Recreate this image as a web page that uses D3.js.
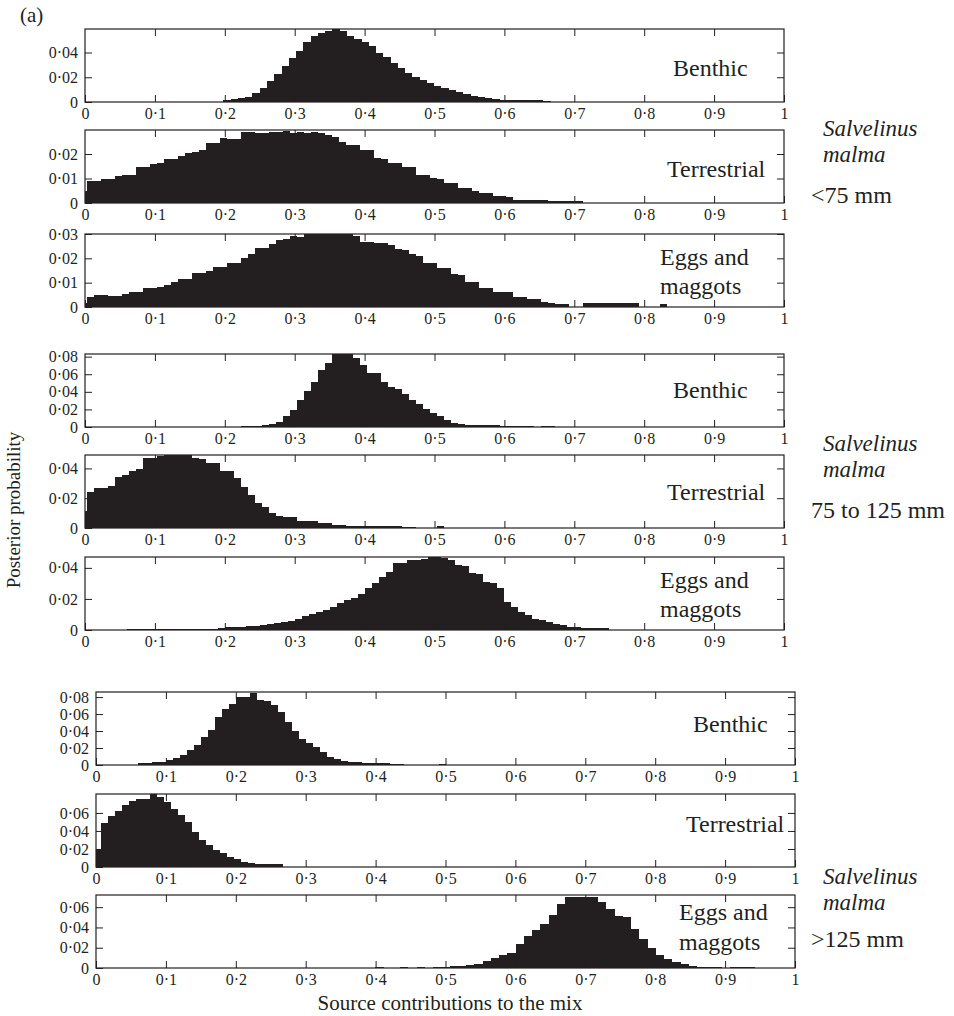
<!DOCTYPE html>
<html>
<head>
<meta charset="utf-8">
<script src="https://cdnjs.cloudflare.com/ajax/libs/d3/7.8.5/d3.min.js"></script>
<style>
  body { margin: 0; background: #fff; }
  text { font-family: "Liberation Serif", "Times New Roman", serif; fill: #231f20; }
</style>
</head>
<body>
<svg id="chart" width="954" height="1016"></svg>
<script>
// ---- data ----
const sources = ["Benthic", "Terrestrial", "Eggs and maggots"];
const sizeClasses = ["<75 mm", "75 to 125 mm", ">125 mm"];
const genus = "Salvelinus", species = "malma";
const xTicks = [0, 0.1, 0.2, 0.3, 0.4, 0.5, 0.6, 0.7, 0.8, 0.9, 1];

// y axis maximum and labelled ticks of each panel
const yMax = [0.059, 0.0298, 0.030, 0.083, 0.049, 0.047, 0.086, 0.081, 0.072];
const yTicks = [
  [0, 0.02, 0.04], [0, 0.01, 0.02], [0, 0.01, 0.02, 0.03],
  [0, 0.02, 0.04, 0.06, 0.08], [0, 0.02, 0.04], [0, 0.02, 0.04],
  [0, 0.02, 0.04, 0.06, 0.08], [0, 0.02, 0.04, 0.06], [0, 0.02, 0.04, 0.06]
];

// left edge of first bin and bin width for each panel
const binStart = [0.198, -0.007, -0.007, 0.223, -0.007, 0.06, 0.06, -0.003, 0.3997];
const binWidth = [0.0104, 0.01, 0.01, 0.01, 0.01, 0.01, 0.01, 0.01, 0.0118];

// posterior probability per bin
const benthicSmall = [0.0015, 0.0028, 0.0030, 0.0042, 0.0069, 0.0110, 0.0172, 0.0226, 0.0291, 0.0354,
  0.0416, 0.0482, 0.0536, 0.0558, 0.0577, 0.0590, 0.0572, 0.0535, 0.0510, 0.0482,
  0.0449, 0.0400, 0.0362, 0.0313, 0.0272, 0.0237, 0.0204, 0.0177, 0.0150, 0.0133,
  0.0112, 0.0095, 0.0079, 0.0063, 0.0049, 0.0041, 0.0033, 0.0025, 0.0020, 0.0017,
  0.0014, 0.0014, 0.0014, 0.0014, 0.0012];
const terrestrialSmall = [0.0047, 0.0088, 0.0090, 0.0099, 0.0100, 0.0111, 0.0115, 0.0116, 0.0145, 0.0146,
  0.0160, 0.0162, 0.0179, 0.0180, 0.0190, 0.0206, 0.0208, 0.0217, 0.0244, 0.0246,
  0.0264, 0.0260, 0.0262, 0.0291, 0.0290, 0.0285, 0.0287, 0.0288, 0.0291, 0.0292,
  0.0287, 0.0291, 0.0284, 0.0291, 0.0284, 0.0278, 0.0268, 0.0250, 0.0237, 0.0236,
  0.0217, 0.0215, 0.0183, 0.0181, 0.0163, 0.0162, 0.0149, 0.0147, 0.0116, 0.0115,
  0.0102, 0.0100, 0.0081, 0.0080, 0.0061, 0.0060, 0.0050, 0.0041, 0.0040, 0.0027,
  0.0027, 0.0026, 0.0014, 0.0014, 0.0014, 0.0013, 0.0012, 0.0007, 0.0007, 0.0007,
  0.0007, 0.0007];
const eggsSmall = [0.0018, 0.0041, 0.0048, 0.0050, 0.0045, 0.0046, 0.0052, 0.0063, 0.0063, 0.0080,
  0.0080, 0.0083, 0.0091, 0.0103, 0.0117, 0.0117, 0.0138, 0.0140, 0.0146, 0.0165,
  0.0166, 0.0180, 0.0182, 0.0200, 0.0217, 0.0242, 0.0243, 0.0259, 0.0277, 0.0279,
  0.0293, 0.0286, 0.0307, 0.0307, 0.0307, 0.0307, 0.0307, 0.0307, 0.0307, 0.0293,
  0.0268, 0.0268, 0.0265, 0.0261, 0.0255, 0.0237, 0.0235, 0.0217, 0.0210, 0.0182,
  0.0180, 0.0162, 0.0160, 0.0134, 0.0132, 0.0104, 0.0102, 0.0079, 0.0078, 0.0063,
  0.0063, 0.0060, 0.0041, 0.0040, 0.0032, 0.0031, 0.0020, 0.0018, 0.0011, 0.0011,
  0, 0, 0.0015, 0.0015, 0.0015, 0.0015, 0.0015, 0.0015, 0.0015, 0.0015,
  0, 0, 0, 0.0011];
const benthicMid = [0.0015, 0.0015, 0.0015, 0.0025, 0.0034, 0.0060, 0.0125, 0.0193, 0.0307, 0.0413,
  0.0508, 0.0648, 0.0730, 0.0830, 0.0830, 0.0830, 0.0790, 0.0705, 0.0617, 0.0610,
  0.0515, 0.0458, 0.0430, 0.0370, 0.0310, 0.0260, 0.0200, 0.0160, 0.0120, 0.0080,
  0.0050, 0.0035, 0.0028, 0.0025, 0.0022, 0.0020, 0.0018, 0.0015, 0.0015, 0.0015,
  0.0015, 0.0015, 0, 0.0015, 0.0015];
const terrestrialMid = [0.0116, 0.0242, 0.0271, 0.0271, 0.0282, 0.0344, 0.0353, 0.0382, 0.0398, 0.0471,
  0.0471, 0.0482, 0.0490, 0.0490, 0.0490, 0.0490, 0.0470, 0.0465, 0.0438, 0.0438,
  0.0382, 0.0382, 0.0338, 0.0278, 0.0220, 0.0171, 0.0144, 0.0104, 0.0082, 0.0071,
  0.0071, 0.0049, 0.0049, 0.0045, 0.0033, 0.0033, 0.0020, 0.0018, 0.0016, 0.0016,
  0.0015, 0.0015, 0.0015, 0.0012, 0.0012, 0.0012, 0.0010, 0.0010, 0, 0,
  0, 0.0012];
const eggsMid = [0.0006, 0.0006, 0.0006, 0.0006, 0.0006, 0.0006, 0.0006, 0.0006, 0.0006, 0.0006,
  0.0006, 0.0006, 0.0006, 0.0015, 0.0017, 0.0020, 0.0022, 0.0025, 0.0028, 0.0030,
  0.0039, 0.0045, 0.0054, 0.0060, 0.0069, 0.0090, 0.0100, 0.0118, 0.0130, 0.0146,
  0.0176, 0.0190, 0.0204, 0.0232, 0.0269, 0.0301, 0.0340, 0.0376, 0.0434, 0.0434,
  0.0452, 0.0452, 0.0460, 0.0473, 0.0473, 0.0465, 0.0452, 0.0420, 0.0410, 0.0366,
  0.0360, 0.0312, 0.0305, 0.0269, 0.0183, 0.0150, 0.0118, 0.0097, 0.0069, 0.0065,
  0.0054, 0.0039, 0.0035, 0.0021, 0.0020, 0.0016, 0.0013, 0.0013, 0.0012];
const benthicLarge = [0.0020, 0.0020, 0.0030, 0.0030, 0.0060, 0.0083, 0.0122, 0.0178, 0.0240, 0.0335,
  0.0418, 0.0563, 0.0663, 0.0722, 0.0800, 0.0800, 0.0847, 0.0769, 0.0750, 0.0702,
  0.0622, 0.0504, 0.0406, 0.0308, 0.0256, 0.0208, 0.0149, 0.0098, 0.0066, 0.0043,
  0.0030, 0.0030, 0.0020, 0.0020, 0.0020, 0.0018, 0.0015, 0.0015, 0, 0,
  0, 0, 0, 0.0015];
const terrestrialLarge = [0.0200, 0.0490, 0.0567, 0.0626, 0.0689, 0.0737, 0.0752, 0.0760, 0.0810, 0.0780,
  0.0726, 0.0641, 0.0578, 0.0504, 0.0393, 0.0300, 0.0244, 0.0189, 0.0160, 0.0107,
  0.0085, 0.0060, 0.0048, 0.0033, 0.0033, 0.0033, 0.0030];
const eggsLarge = [0.0008, 0, 0, 0.0008, 0, 0.0008, 0, 0.0008, 0.0010, 0.0017,
  0.0017, 0.0027, 0.0043, 0.0066, 0.0102, 0.0125, 0.0150, 0.0232, 0.0311, 0.0376,
  0.0435, 0.0526, 0.0631, 0.0703, 0.0703, 0.0703, 0.0703, 0.0647, 0.0582, 0.0517,
  0.0500, 0.0386, 0.0288, 0.0200, 0.0125, 0.0092, 0.0060, 0.0036, 0.0017, 0.0010,
  0.0008, 0.0008, 0, 0.0008, 0.0008, 0.0008];

const series = [benthicSmall, terrestrialSmall, eggsSmall,
                benthicMid, terrestrialMid, eggsMid,
                benthicLarge, terrestrialLarge, eggsLarge];

// ---- layout ----
const ink = "#231f20";
const svg = d3.select("#chart");
const groupX = [[85, 784], [85, 784], [96, 795]];
const panelTop = [29, 130, 234, 354, 455, 557, 692, 794, 895];
const panelH = 73;
const labelX = [673, 667, 660, 673, 667, 660, 693, 686, 679];
const labelDy = [[47], [47], [31, 60], [44], [45], [31, 60], [40], [38], [25, 55]];
const speciesY = [[136, 162, 203], [451, 477, 518], [884, 910, 947]];

function fmt(d, digits) {
  if (d === 0) return "0";
  if (d === 1) return "1";
  return d.toFixed(digits).replace(".", "\u00b7");
}

function styleAxis(g) {
  g.select(".domain").remove();
  g.selectAll(".tick line").attr("stroke", ink).attr("stroke-width", 1);
  g.selectAll(".tick text").attr("fill", ink).style("font-size", "16px")
    .style("font-family", '"Liberation Serif", "Times New Roman", serif');
}

series.forEach((vals, i) => {
  const grp = Math.floor(i / 3);
  const top = panelTop[i], bottom = top + panelH;
  const x = d3.scaleLinear().domain([0, 1]).range(groupX[grp]);
  const y = d3.scaleLinear().domain([0, yMax[i]]).range([bottom, top]);

  const bins = vals.map((v, k) => ({
    a: Math.max(0, binStart[i] + k * binWidth[i]),
    b: Math.min(1, binStart[i] + (k + 1) * binWidth[i]),
    v: Math.min(v, yMax[i])
  })).filter(d => d.v > 0);

  const p = svg.append("g");

  p.append("g").attr("shape-rendering", "crispEdges")
    .selectAll("rect").data(bins).join("rect")
    .attr("x", d => x(d.a))
    .attr("width", d => x(d.b) - x(d.a))
    .attr("y", d => y(d.v))
    .attr("height", d => y(0) - y(d.v))
    .attr("fill", ink);

  // inward ticks on all four sides
  p.append("g").attr("transform", `translate(0,${bottom})`)
    .call(d3.axisBottom(x).tickValues(xTicks).tickSize(-7).tickPadding(6).tickFormat(d => fmt(d, 1)))
    .call(styleAxis);
  p.append("g").attr("transform", `translate(0,${top})`)
    .call(d3.axisTop(x).tickValues(xTicks.slice(1, -1)).tickSize(-7).tickFormat(""))
    .call(styleAxis);
  p.append("g").attr("transform", `translate(${groupX[grp][0]},0)`)
    .call(d3.axisLeft(y).tickValues(yTicks[i]).tickSize(-7).tickPadding(7).tickFormat(d => fmt(d, 2)))
    .call(styleAxis);
  p.append("g").attr("transform", `translate(${groupX[grp][1]},0)`)
    .call(d3.axisRight(y).tickValues(yTicks[i].filter(t => t > 0)).tickSize(-7).tickFormat(""))
    .call(styleAxis);

  p.append("rect")
    .attr("x", groupX[grp][0]).attr("y", top)
    .attr("width", groupX[grp][1] - groupX[grp][0]).attr("height", panelH)
    .attr("fill", "none").attr("stroke", ink).attr("stroke-width", 1.2);

  // source label
  const words = i % 3 === 2 ? ["Eggs and", "maggots"] : [sources[i % 3]];
  const t = p.append("text").attr("x", labelX[i]).style("font-size", "24px");
  words.forEach((w, j) => t.append("tspan").attr("x", labelX[i]).attr("y", top + labelDy[i][j]).text(w));
});

// size class labels
sizeClasses.forEach((s, g) => {
  svg.append("text").attr("x", 823).attr("y", speciesY[g][0])
    .style("font-size", "23px").style("font-style", "italic").text(genus);
  svg.append("text").attr("x", 823).attr("y", speciesY[g][1])
    .style("font-size", "23px").style("font-style", "italic").text(species);
  svg.append("text").attr("x", 811).attr("y", speciesY[g][2])
    .style("font-size", "24px").text(s);
});

svg.append("text").attr("x", 20).attr("y", 22).style("font-size", "21px").text("(a)");

svg.append("text").attr("transform", "translate(20,510) rotate(-90)")
  .attr("text-anchor", "middle").style("font-size", "19px").text("Posterior probability");

svg.append("text").attr("x", 450).attr("y", 1010)
  .attr("text-anchor", "middle").style("font-size", "21px").text("Source contributions to the mix");
</script>
</body>
</html>
